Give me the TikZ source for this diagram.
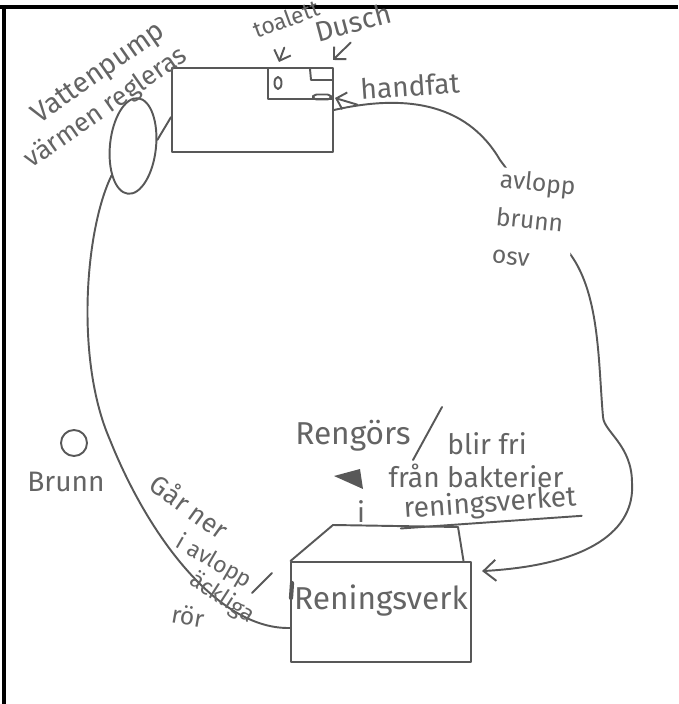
\documentclass[tikz,border=0pt]{standalone}
\usepackage{fontspec}
\setmainfont{Fira Sans}
\usetikzlibrary{shapes.geometric,arrows.meta,calc}
\definecolor{cpen}{RGB}{88,88,88}
\definecolor{cink}{RGB}{100,100,100}

\begin{document}
\begin{tikzpicture}[x=0.01cm,y=-0.01cm,
   pen/.style={draw=cpen,line width=0.55pt,line join=round,line cap=round},
   ink/.style={text=cink,font=\fontsize{8}{10}\selectfont,inner sep=1pt},
   tip/.style={pen,-{Straight Barb[length=2.5pt,width=5pt]}},
   box/.style={pen,rectangle,inner sep=0pt}]
  \useasboundingbox (0,0) rectangle (678,704);
  % frame of the scan
  \draw[line width=0.9pt] (0,7) -- (678,7);
  \draw[line width=1pt] (4,7) -- (4,704);

  % house with bathroom
  \node[box,minimum width=1.61cm,minimum height=0.84cm] (house) at (252.5,110) {};
  \draw[pen] (268,68) -- (268,99) -- (332,99);
  \node[pen,ellipse,minimum width=0.07cm,minimum height=0.12cm,inner sep=0pt] (wc) at (278,83) {};
  \draw[pen] (310,69) -- (311,80) -- (332,80);
  \node[pen,rounded corners=1pt,minimum width=0.18cm,minimum height=0.05cm,inner sep=0pt] (sink) at (322,97) {};
  \coordinate (wcpt) at (279,62);
  \coordinate (dupt) at (333,60);
  \coordinate (hfpt) at (335,98);
  \node[ink,rotate=20,font=\fontsize{6.5}{8}\selectfont] (toal) at (286,19) {toalett};
  \draw[tip,shorten <=5pt] (toal.south) -- (wcpt);
  \node[ink,rotate=15] (dusch) at (353,22) {Dusch};
  \draw[tip,shorten <=2.5pt] (dusch.south) -- (dupt);
  \node[ink,rotate=4] (hf) at (410,86) {handfat};
  \draw[tip] (hf.south west) -- (hfpt);

  % water pump
  \node[pen,ellipse,rotate=-6,minimum width=0.46cm,minimum height=0.96cm,inner sep=0pt] (pump) at (133,146) {};
  \draw[pen] (pump.20) -- (house.185);
  \node[ink,rotate=35] (vp) at (99,74) {Vattenpump};
  \node[ink,rotate=35,font=\fontsize{7.5}{9}\selectfont] (vr) at (106,108) {värmen regleras};

  % treatment plant
  \node[box,minimum width=1.79cm,minimum height=1.0cm,text=cink,text depth=0.3cm,
    font=\fontsize{9}{10}\selectfont] (rv) at (381,612) {Reningsverk};
  \draw[pen] (rv.north west) -- (333,525) -- (458,527) -- ($(rv.north east)+(-8,0)$);
  \draw[pen,line width=1.2pt] (292,583) -- (291,598);

  % loop
  \draw[pen] (pump.240) .. controls (85,230) and (75,360) .. (110,440)
     .. controls (150,540) and (220,630) .. (rv.190);
  \draw[pen,-{Straight Barb[length=3.5pt,width=6pt]},shorten >=3pt] (house.east)
     .. controls (400,95) and (465,100) .. (500,160)
     .. controls (530,200) and (545,225) .. (567,250)
     .. controls (600,290) and (598,360) .. (603,417)
     .. controls (604,432) and (632,445) .. (632,483)
     .. controls (635,530) and (590,565) .. (rv.24);
  \node[ink,fill=white,align=left,rotate=-6,inner sep=0.5pt,
    font=\fontsize{7}{10.8}\selectfont] (av) at (534,220) {avlopp\\brunn\\osv};

  % notes
  \node[ink,font=\fontsize{9}{10}\selectfont] (reng) at (353,436) {Rengörs};
  \draw[pen] (442,407) -- (413,460);
  \node[ink] (fri) at (487,444) {blir fri};
  \node[ink] (bakt) at (476,476) {från bakterier};
  \fill[cpen] (334,476) -- (360,469) -- (363,489) -- cycle;
  \node[ink] (ii) at (361,512) {i};
  \node[ink,rotate=4] (rnv) at (490,504) {reningsverket};
  \draw[pen] (rnv.south west) -- (rnv.south east);

  \node[pen,circle,minimum size=0.26cm,inner sep=0pt] (well) at (74,443) {};
  \node[ink] (brunn) at (66,482) {Brunn};

  \node[ink,rotate=-36,font=\fontsize{7.5}{9}\selectfont] (g1) at (190,506) {Går ner};
  \node[ink,rotate=-30,font=\fontsize{6.5}{8}\selectfont] (g2) at (214,562) {i avlopp};
  \node[ink,rotate=-33,font=\fontsize{6.5}{8}\selectfont] (g3) at (222,598) {äckliga};
  \node[ink,rotate=-10,font=\fontsize{7}{8}\selectfont] (g4) at (188,616) {rör};
  \draw[pen] (272,573) -- (252,593);
\end{tikzpicture}
\end{document}
